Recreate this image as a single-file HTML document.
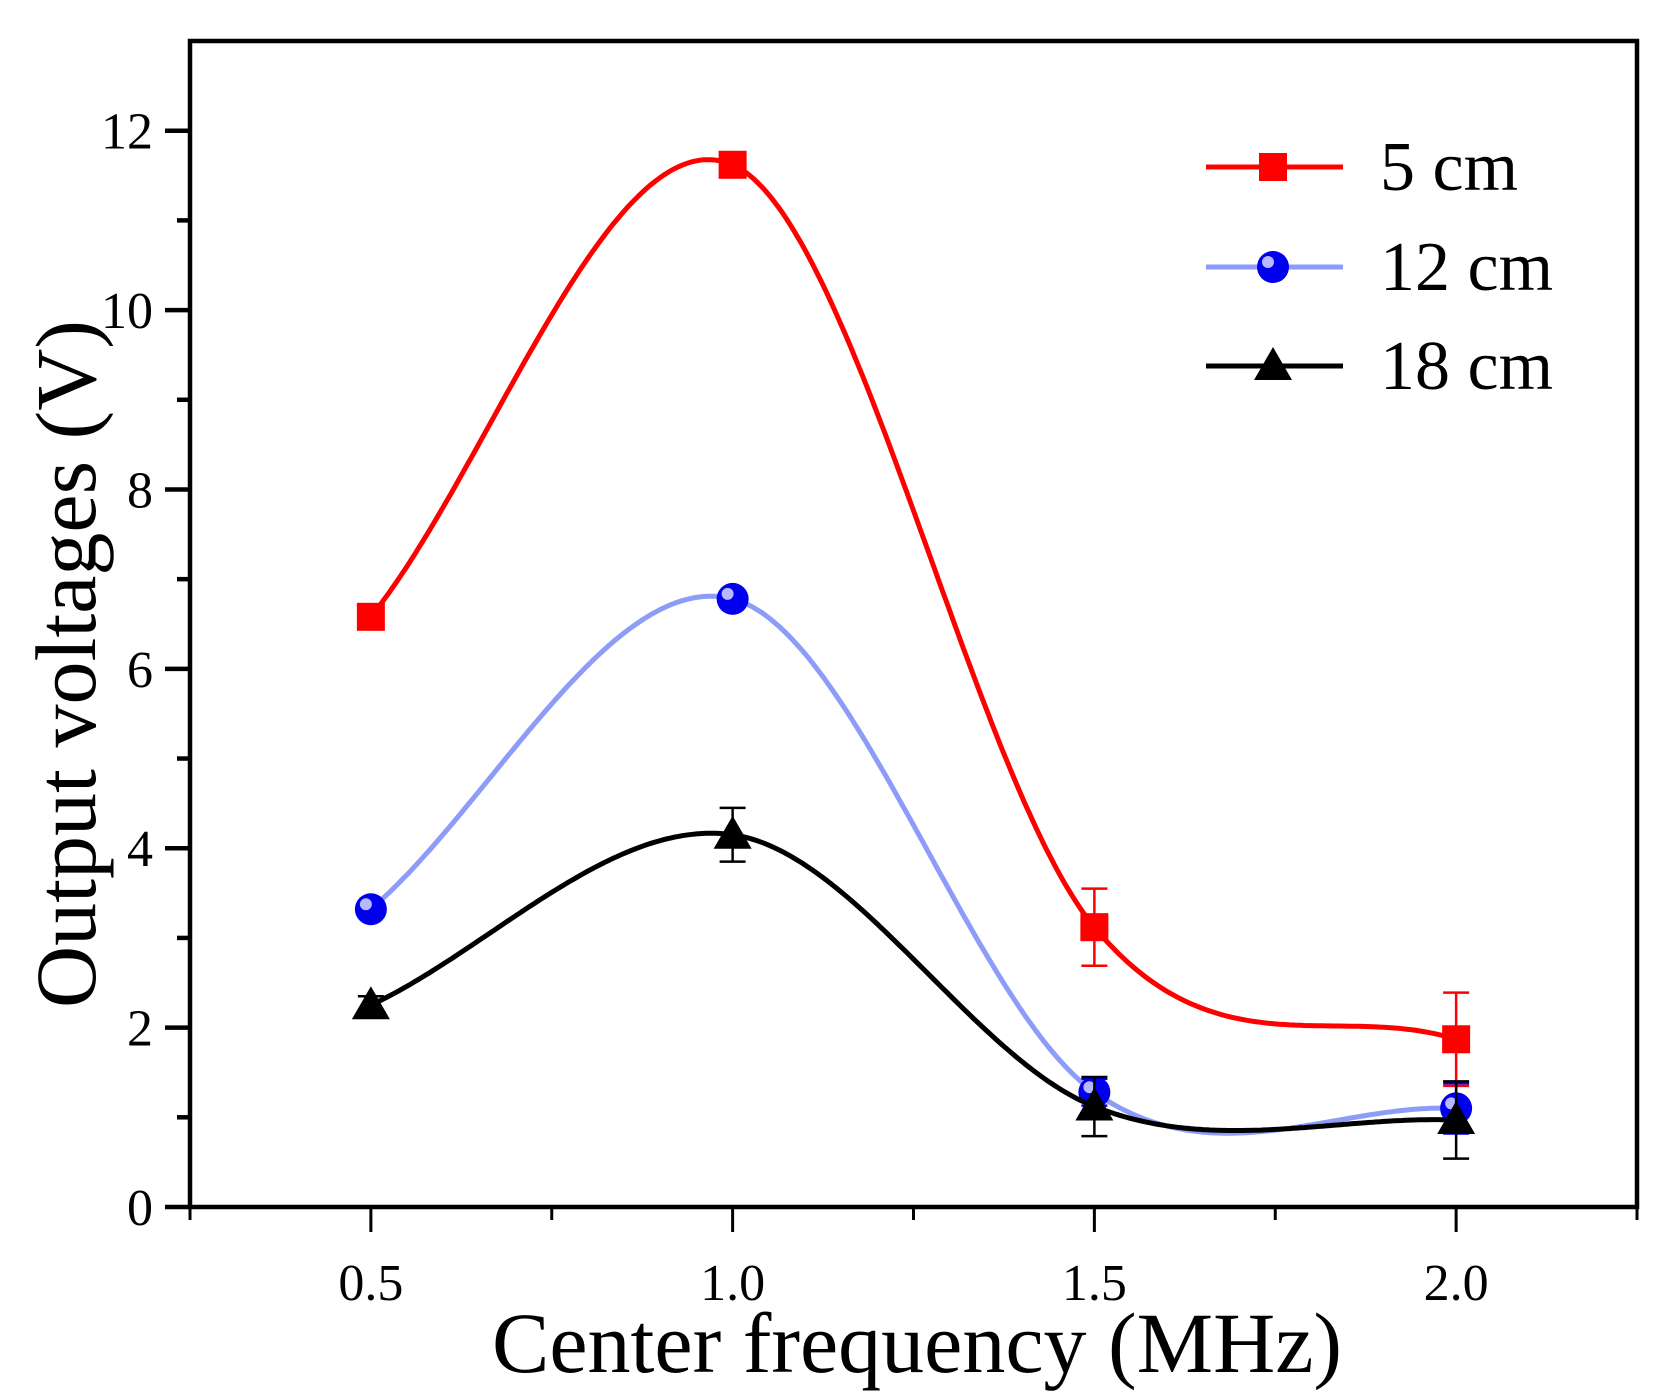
<!DOCTYPE html>
<html><head><meta charset="utf-8"><style>
html,body{margin:0;padding:0;background:#fff;}
svg{display:block;font-family:"Liberation Serif",serif;}
</style></head><body>
<svg id="chart" width="1678" height="1400" viewBox="0 0 1678 1400">
<g id="plot"></g>
<g id="axes"></g>
<text x="917" y="1372" font-size="86" text-anchor="middle">Center frequency (MHz)</text>
<text transform="translate(95,664) rotate(-90)" font-size="86" text-anchor="middle">Output voltages (V)</text>
<g id="legend"></g>
</svg>
<script>
const categories = [0.5, 1.0, 1.5, 2.0];
const s5 = [6.58, 11.62, 3.12, 1.87];
const e5 = [0, 0, 0.43, 0.52];
const s12 = [3.32, 6.78, 1.28, 1.10];
const e12 = [0.05, 0, 0.15, 0.28];
const s18 = [2.25, 4.15, 1.12, 0.97];
const e18 = [0.1, 0.3, 0.33, 0.43];
const xTicks = ["0.5","1.0","1.5","2.0"];
const yTicks = [0,2,4,6,8,10,12];
const seriesNames = ["5 cm","12 cm","18 cm"];

const L=190,R=1637,T=41,B=1207,X0=0.25,X1=2.25,Y0=0,Y1=13;
const NS='http://www.w3.org/2000/svg';
const xs=v=>L+(v-X0)/(X1-X0)*(R-L);
const ys=v=>B-(v-Y0)/(Y1-Y0)*(B-T);
function mk(tag,attrs,parent){const e=document.createElementNS(NS,tag);for(const k in attrs)e.setAttribute(k,attrs[k]);parent.appendChild(e);return e;}
const plot=document.getElementById('plot'),axes=document.getElementById('axes'),leg=document.getElementById('legend');

function curve(x,y){const n=x.length,m=[];
 for(let i=0;i<n;i++){if(i===0)m[i]=(y[1]-y[0])/(x[1]-x[0]);else if(i===n-1)m[i]=(y[n-1]-y[n-2])/(x[n-1]-x[n-2]);else m[i]=(y[i+1]-y[i-1])/(x[i+1]-x[i-1]);}
 return t=>{let i=0;while(i<n-2&&t>x[i+1])i++;const h=x[i+1]-x[i],u=(t-x[i])/h,u2=u*u,u3=u2*u;
  return (2*u3-3*u2+1)*y[i]+(u3-2*u2+u)*h*m[i]+(-2*u3+3*u2)*y[i+1]+(u3-u2)*h*m[i+1];};}

function marker(type,cx,cy,color,parent){
 if(type==='sq')return mk('rect',{x:cx-14,y:cy-14,width:28,height:28,fill:color},parent);
 if(type==='ci'){const g=mk('g',{},parent);mk('circle',{cx,cy,r:16,fill:'#0000ee'},g);mk('circle',{cx:cx-5,cy:cy-5,r:6,fill:'#b8b8ff'},g);return g;}
 return mk('polygon',{points:`${cx},${cy-19} ${cx+19},${cy+14} ${cx-19},${cy+14}`,fill:color},parent);}

const series=[[s5,e5,'#ff0000','sq','series-5cm'],[s12,e12,'#8c9cf8','ci','series-12cm'],[s18,e18,'#000000','tr','series-18cm']];
const markerCol=['#ff0000','#0000ee','#000000'];
series.forEach((s,si)=>{
 const g=mk('g',{},plot);
 
 
 const f=curve(categories,s[0]);let d='';
 for(let k=0;k<=300;k++){const t=categories[0]+(categories[3]-categories[0])*k/300;d+=(k?'L':'M')+xs(t).toFixed(1)+','+ys(f(t)).toFixed(1);}
 const p=mk('path',{d,fill:'none',stroke:s[2],'stroke-width':5},g);
 
 
 categories.forEach((c,i)=>{
  const cx=xs(c),v=s[0][i],e=s[1][i];
  if(e>0){const eb=mk('path',{d:`M${cx},${ys(v-e)}V${ys(v+e)}M${cx-13},${ys(v-e)}h26M${cx-13},${ys(v+e)}h26`,stroke:markerCol[si],'stroke-width':2.5,fill:'none'},g);
   
   }
  const m=marker(s[3],cx,ys(v),markerCol[si],g);
  
  
 });
});

mk('rect',{x:L,y:T,width:R-L,height:B-T,fill:'none',stroke:'#000','stroke-width':4.5},axes);
yTicks.forEach(v=>{const y=ys(v);
 mk('line',{x1:L-25,x2:L,y1:y,y2:y,stroke:'#000','stroke-width':4.5},axes);
 const t=mk('text',{x:L-37,y:y+18,'font-size':52,'text-anchor':'end'},axes);t.textContent=v;
 
 
 if(v<12){const ym=ys(v+1);mk('line',{x1:L-13,x2:L,y1:ym,y2:ym,stroke:'#000','stroke-width':4.5},axes);}
});
for(let v=0.25;v<=2.2501;v+=0.25){const x=xs(v),maj=Math.abs((v*2)-Math.round(v*2))<1e-6&&v>=0.5;
 mk('line',{x1:x,x2:x,y1:B,y2:B+(maj?25:13),stroke:'#000','stroke-width':3},axes);}
categories.forEach((c,i)=>{const t=mk('text',{x:xs(c),y:1300,'font-size':52,'text-anchor':'middle'},axes);t.textContent=xTicks[i];
 
 });

[167,267,366].forEach((y,i)=>{
 const g=mk('g',{},leg);
 
 
 mk('line',{x1:1206,x2:1343,y1:y,y2:y,stroke:series[i][2],'stroke-width':5},g);
 marker(series[i][3],1273,y,markerCol[i],g);
 const t=mk('text',{x:1380,y:y+23,'font-size':70},g);t.textContent=seriesNames[i];
});
</script>
</body></html>
